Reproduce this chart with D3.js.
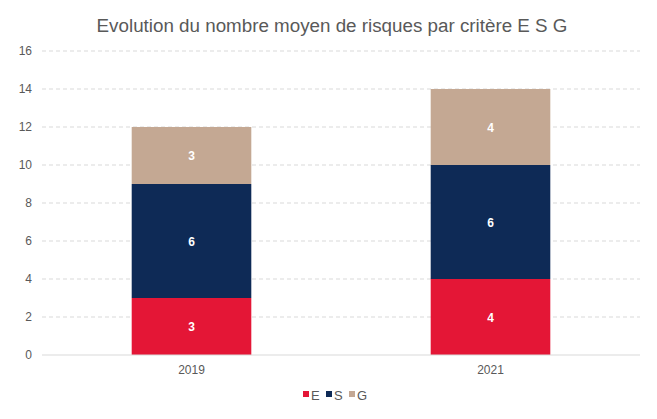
<!DOCTYPE html>
<html><head><meta charset="utf-8">
<script src="https://cdn.jsdelivr.net/npm/d3@7"></script>
<style>body{margin:0;background:#fff}svg{display:block}</style>
</head><body><svg id="c" width="657" height="419"></svg>
<script>
const categories = ["2019", "2021"];
const seriesNames = ["E", "S", "G"];
const valuesE = [3, 4];
const valuesS = [6, 6];
const valuesG = [3, 4];
const yTicks = [0, 2, 4, 6, 8, 10, 12, 14, 16];
const colors = {E: "#e41636", S: "#0e2a56", G: "#c4a893"};

const svg = d3.select("#c");
const font = "'Liberation Sans', Arial, sans-serif";
const m = {l: 42, r: 17, t: 51, b: 64};
const W = 657, H = 419;
const x = d3.scaleBand().domain(categories).range([m.l, W - m.r]).paddingInner(0.6).paddingOuter(0.3);
const y = d3.scaleLinear().domain([0, 16]).range([H - m.b, m.t]);

svg.append("text").attr("x", 332).attr("y", 32).attr("text-anchor", "middle")
  .attr("font-family", font).attr("font-size", 18.8).attr("fill", "#595959")
  .text("Evolution du nombre moyen de risques par critère E S G");

const grid = svg.append("g");
yTicks.filter(t => t > 0).forEach(t => {
  grid.append("line").attr("x1", m.l).attr("x2", W - m.r).attr("y1", y(t)).attr("y2", y(t))
    .attr("stroke", "#d9d9d9").attr("stroke-dasharray", "4,3");
});
const yAxis = svg.append("g").attr("transform", `translate(${m.l - 8},0)`)
  .call(d3.axisLeft(y).tickValues(yTicks).tickSize(0).tickPadding(2));
yAxis.select(".domain").remove();
yAxis.selectAll("text").attr("font-family", font).attr("font-size", 12).attr("fill", "#595959");

const data = categories.map((c, i) => ({cat: c, E: valuesE[i], S: valuesS[i], G: valuesG[i]}));
const stack = d3.stack().keys(seriesNames)(data);
stack.forEach(layer => {
  const g = svg.append("g");
  layer.forEach(d => {
    g.append("rect").attr("x", x(d.data.cat)).attr("width", x.bandwidth())
      .attr("y", y(d[1])).attr("height", y(d[0]) - y(d[1])).attr("fill", colors[layer.key]);
    g.append("text").attr("x", x(d.data.cat) + x.bandwidth() / 2).attr("y", (y(d[0]) + y(d[1])) / 2 + 4.5)
      .attr("text-anchor", "middle").attr("font-family", font).attr("font-size", 12).attr("font-weight", "bold")
      .attr("fill", "#ffffff").text(d[1] - d[0]);
  });
});

svg.append("line").attr("x1", m.l).attr("x2", W - m.r).attr("y1", y(0)).attr("y2", y(0)).attr("stroke", "#d9d9d9");
const xAxis = svg.append("g").attr("transform", `translate(0,${y(0)})`)
  .call(d3.axisBottom(x).tickSize(0).tickPadding(10));
xAxis.select(".domain").remove();
xAxis.selectAll("text").attr("font-family", font).attr("font-size", 12).attr("fill", "#595959");

const legendX = [303, 326, 349];
seriesNames.forEach((s, i) => {
  const g = svg.append("g").attr("transform", `translate(${legendX[i]},395)`);
  g.append("rect").attr("x", 0).attr("y", -4).attr("width", 6).attr("height", 6).attr("fill", colors[s]);
  g.append("text").attr("x", 8).attr("y", 5).attr("font-family", font).attr("font-size", 13)
    .attr("fill", "#595959").text(s);
});
</script></body></html>
